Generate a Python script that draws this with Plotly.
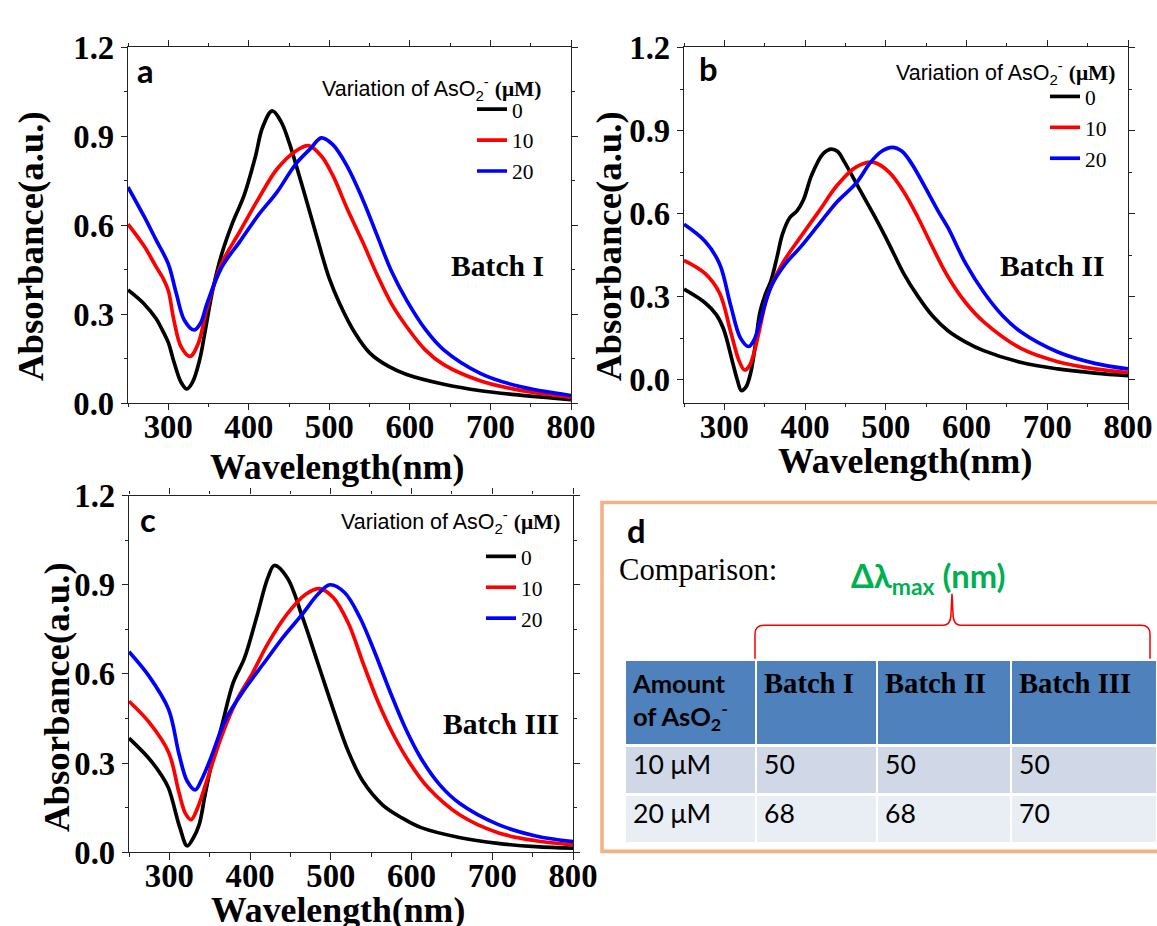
import plotly.graph_objects as go

# layout is designed on a 1157 x 926 grid; K enlarges the canvas for the viewer's zoom
W, H = 1157, 926
K = 1.022
FW, FH = round(W * K), round(H * K)

# ---- UV-vis spectra: wavelength (nm) and absorbance (a.u.) ----
# Batch I
wl_a_0 = [250, 270, 285, 293, 300, 307, 316, 323, 330, 339, 346, 355, 366, 380, 394, 408, 417, 429, 440, 450,
          458, 472, 486, 500, 513, 532, 550, 573, 596, 642, 688, 734, 800]
ab_a_0 = [0.382, 0.335, 0.285, 0.245, 0.205, 0.14, 0.07, 0.048, 0.07, 0.147, 0.247, 0.38, 0.50, 0.61, 0.70, 0.83,
          0.93, 0.986, 0.95, 0.88, 0.81, 0.68, 0.546, 0.42, 0.335, 0.236, 0.17, 0.125, 0.097, 0.064, 0.042, 0.028, 0.012]
wl_a_10 = [250, 270, 285, 293, 300, 307, 316, 327, 337, 348, 366, 389, 412, 435, 458, 474, 490, 504, 522, 541,
           559, 577, 596, 619, 642, 688, 734, 800]
ab_a_10 = [0.604, 0.53, 0.46, 0.424, 0.38, 0.28, 0.19, 0.158, 0.20, 0.32, 0.47, 0.58, 0.69, 0.79, 0.85, 0.869,
           0.834, 0.77, 0.657, 0.546, 0.435, 0.336, 0.258, 0.18, 0.13, 0.075, 0.045, 0.02]
wl_a_20 = [250, 270, 285, 300, 310, 320, 332, 340, 348, 366, 389, 412, 435, 458, 477, 490, 504, 522, 541, 559,
           577, 596, 619, 642, 688, 734, 800]
ab_a_20 = [0.729, 0.63, 0.55, 0.47, 0.37, 0.28, 0.247, 0.27, 0.335, 0.457, 0.546, 0.635, 0.712, 0.806, 0.86,
           0.895, 0.873, 0.80, 0.69, 0.568, 0.446, 0.347, 0.25, 0.18, 0.10, 0.058, 0.026]

# Batch II
wl_b_0 = [250, 276, 290, 299, 310, 316, 321, 327, 333, 339, 344, 351, 358, 365, 372, 381, 390, 398, 408, 422,
          432, 440, 449, 467, 485, 504, 522, 540, 558, 577, 599, 622, 668, 713, 759, 800]
ab_b_0 = [0.327, 0.278, 0.235, 0.183, 0.065, 0.0, -0.039, -0.025, 0.03, 0.14, 0.242, 0.31, 0.36, 0.44, 0.526,
          0.585, 0.61, 0.65, 0.738, 0.815, 0.833, 0.825, 0.785, 0.69, 0.596, 0.49, 0.384, 0.30, 0.23, 0.177,
          0.136, 0.104, 0.062, 0.039, 0.024, 0.015]
wl_b_10 = [250, 276, 294, 308, 318, 325, 331, 337, 345, 353, 372, 394, 417, 440, 463, 485, 504, 522, 540, 558,
           577, 599, 622, 668, 713, 759, 800]
ab_b_10 = [0.431, 0.384, 0.313, 0.171, 0.07, 0.035, 0.05, 0.10, 0.20, 0.30, 0.42, 0.514, 0.608, 0.703, 0.768,
           0.785, 0.75, 0.68, 0.585, 0.478, 0.372, 0.278, 0.207, 0.112, 0.065, 0.039, 0.026]
wl_b_20 = [250, 276, 294, 308, 320, 330, 337, 344, 358, 376, 394, 417, 440, 463, 481, 495, 508, 520, 531, 554,
           565, 577, 599, 622, 645, 668, 713, 759, 800]
ab_b_20 = [0.561, 0.50, 0.419, 0.266, 0.15, 0.12, 0.145, 0.207, 0.337, 0.42, 0.478, 0.561, 0.644, 0.709, 0.785,
           0.825, 0.839, 0.825, 0.785, 0.667, 0.608, 0.549, 0.419, 0.313, 0.23, 0.171, 0.10, 0.059, 0.039]

# Batch III
wl_c_0 = [250, 275, 290, 299, 313, 322, 330, 337, 344, 351, 365, 379, 393, 408, 422, 430, 446, 465, 484, 503,
          522, 540, 564, 588, 612, 659, 707, 754, 800]
ab_c_0 = [0.384, 0.315, 0.26, 0.216, 0.083, 0.022, 0.05, 0.094, 0.19, 0.282, 0.426, 0.57, 0.653, 0.79, 0.924,
          0.965, 0.924, 0.79, 0.636, 0.481, 0.337, 0.238, 0.16, 0.116, 0.083, 0.05, 0.03, 0.019, 0.014]
wl_c_10 = [250, 275, 299, 312, 320, 327, 335, 346, 365, 384, 403, 422, 446, 469, 486, 503, 522, 540, 559, 578,
           597, 621, 659, 707, 754, 800]
ab_c_10 = [0.508, 0.437, 0.337, 0.20, 0.13, 0.11, 0.15, 0.238, 0.393, 0.514, 0.603, 0.702, 0.802, 0.868, 0.887,
           0.857, 0.769, 0.636, 0.503, 0.393, 0.304, 0.216, 0.127, 0.066, 0.039, 0.025]
wl_c_20 = [250, 275, 299, 312, 322, 332, 340, 351, 370, 393, 417, 441, 465, 484, 499, 517, 536, 555, 574, 593,
           612, 635, 659, 707, 754, 800]
ab_c_20 = [0.675, 0.592, 0.481, 0.33, 0.24, 0.21, 0.245, 0.315, 0.448, 0.548, 0.636, 0.724, 0.802, 0.868, 0.90,
           0.874, 0.79, 0.669, 0.536, 0.414, 0.315, 0.227, 0.166, 0.094, 0.055, 0.036]

concentrations = ["0", "10", "20"]
line_colors = ["#000000", "#FF0000", "#0000FF"]
batch_names = ["Batch I", "Batch II", "Batch III"]
panel_letters = ["a", "b", "c"]

# ---- comparison table: shift of absorption maximum ----
table_header = ["<b>Amount<br>of AsO<sub>2</sub><sup>-</sup></b>", "<b>Batch I</b>", "<b>Batch II</b>",
                "<b>Batch III</b>"]
row_labels = ["10 μM", "20 μM"]
shift_batch1 = [50, 68]
shift_batch2 = [50, 68]
shift_batch3 = [50, 70]


def px(x):
    return x / W


def py(y):
    return 1 - y / H


def sz(v):
    return v * K


SERIF = "Liberation Serif"
SANS = "Lato"

fig = go.Figure()

panels = [
    dict(data=[(wl_a_0, ab_a_0), (wl_a_10, ab_a_10), (wl_a_20, ab_a_20)],
         box=(128, 571, 30, 392), yr=[0, 1.2], legend="legend"),
    dict(data=[(wl_b_0, ab_b_0), (wl_b_10, ab_b_10), (wl_b_20, ab_b_20)],
         box=(684, 1128, 30, 392), yr=[-0.085, 1.2], legend="legend2"),
    dict(data=[(wl_c_0, ab_c_0), (wl_c_10, ab_c_10), (wl_c_20, ab_c_20)],
         box=(129, 573, 486, 849), yr=[0, 1.2], legend="legend3"),
]

axis_common = dict(
    showline=True, linecolor="#222222", linewidth=sz(1.2), mirror="ticks",
    ticks="outside", ticklen=sz(6), tickwidth=sz(1.2), tickcolor="#222222",
    showgrid=False, zeroline=False,
    tickfont=dict(family=SERIF, size=sz(32), color="black", weight="bold"),
)

for i, p in enumerate(panels):
    suffix = "" if i == 0 else str(i + 1)
    xa, ya = "x" + suffix, "y" + suffix
    for (wl, ab), name, col in zip(p["data"], concentrations, line_colors):
        fig.add_trace(go.Scatter(
            x=wl, y=ab, mode="lines", name=name, xaxis=xa, yaxis=ya,
            line=dict(color=col, width=sz(3.6), shape="spline", smoothing=1.0),
            legend=p["legend"], showlegend=True,
        ))
    x0, x1, y0, y1 = p["box"]
    fig.layout["xaxis" + suffix] = dict(
        axis_common, domain=[px(x0), px(x1)], anchor=ya, range=[250, 800],
        tickvals=[300, 400, 500, 600, 700, 800], ticklabelstandoff=-12,
        minor=dict(dtick=50, tick0=250, ticks="outside", ticklen=sz(3), tickcolor="#222222"),
    )
    fig.layout["yaxis" + suffix] = dict(
        axis_common, domain=[py(y1), py(y0)], anchor=xa, range=p["yr"],
        tickvals=[0, 0.3, 0.6, 0.9, 1.2], ticktext=["0.0", "0.3", "0.6", "0.9", "1.2"],
        minor=dict(dtick=0.15, tick0=0, ticks="outside", ticklen=sz(3), tickcolor="#222222"),
    )

# legends, one per spectrum panel
legend_pos = [(472, 72), (1045, 59), (481, 527)]
for i, (lx, ly) in enumerate(legend_pos):
    key = "legend" if i == 0 else "legend" + str(i + 1)
    fig.layout[key] = dict(
        x=px(lx), y=py(ly), xanchor="left", yanchor="top",
        bgcolor="rgba(0,0,0,0)", borderwidth=0,
        font=dict(family=SERIF, size=sz(21), color="black"),
        tracegroupgap=0, traceorder="normal",
    )

ann = []


def label(text, x, y, size, family, xanchor="center", color="black", angle=0):
    ann.append(dict(text=text, x=px(x), y=py(y), xref="paper", yref="paper",
                    xanchor=xanchor, yanchor="middle", showarrow=False, textangle=angle,
                    font=dict(family=family, size=sz(size), color=color)))


# axis titles
for (tx, ty) in [(337, 457), (905, 451), (338, 908)]:
    label("<b>Wavelength(nm)</b>", tx, ty, 35, SERIF)
for (tx, ty) in [(31, 232), (609, 232), (56, 691)]:
    label("<b>Absorbance(a.u.)</b>", tx, ty, 36, SERIF, angle=-90)

# panel letters
for letter, (tx, ty) in zip(panel_letters, [(145, 53), (708, 51), (148, 510)]):
    label("<b>" + letter + "</b>", tx, ty, 32, SANS)

# legend headings
for (tx, ty) in [(320, 72), (894, 55), (339, 512)]:
    label("Variation of AsO<sub>2</sub><sup>-</sup> "
          "<span style='font-family:Liberation Serif'><b>(μM)</b></span>",
          tx, ty, 21, "Liberation Sans", xanchor="left")

# batch labels
for name, (tx, ty) in zip(batch_names, [(498, 252), (1052, 252), (501, 718)]):
    label("<b>" + name + "</b>", tx, ty, 29, SERIF)

# panel d texts
label("<b>d</b>", 636, 522, 32, SANS)
label("Comparison:", 617, 562, 30, SERIF, xanchor="left")
label("<b>Δλ<sub>max</sub> (nm)</b>", 928, 570, 32, SANS, color="#00B050")

fig.update_layout(annotations=ann)

# comparison table
fig.add_trace(go.Table(
    domain=dict(x=[px(625), 1.0], y=[py(842), py(653)]),
    columnwidth=[131, 121, 134, 146],
    header=dict(
        values=table_header,
        fill_color="#4F81BD",
        line=dict(color="white", width=sz(2.5)),
        align="left", height=sz(84),
        font=dict(family=[SANS, SERIF, SERIF, SERIF], size=[sz(25), sz(28), sz(28), sz(28)], color="black"),
    ),
    cells=dict(
        values=[row_labels, shift_batch1, shift_batch2, shift_batch3],
        fill_color=[["#D0D8E8", "#E9EDF4"]] * 4,
        line=dict(color="white", width=sz(2.5)),
        align="left", height=sz(48),
        font=dict(family=SANS, size=sz(26), color="black"),
    ),
))


# frame around panel d and the brace over the batch columns
def pt(x, y):
    return f"{px(x):.5f},{py(y):.5f}"


brace = ("M" + pt(755, 652) + " L" + pt(755, 627) + " Q" + pt(755, 618) + " " + pt(764, 618) +
         " L" + pt(943, 618) + " Q" + pt(951, 618) + " " + pt(951, 606) + " L" + pt(952, 586) +
         " L" + pt(953, 606) + " Q" + pt(953, 618) + " " + pt(961, 618) +
         " L" + pt(1141, 618) + " Q" + pt(1150, 618) + " " + pt(1150, 627) + " L" + pt(1150, 652))

fig.update_layout(shapes=[
    dict(type="rect", xref="paper", yref="paper", x0=px(602), x1=px(1166), y0=py(848), y1=py(493),
         line=dict(color="#F4B183", width=sz(3.5)), fillcolor="rgba(0,0,0,0)"),
    dict(type="path", xref="paper", yref="paper", path=brace, line=dict(color="#FF0000", width=sz(1.5))),
])

fig.update_layout(
    width=FW, height=FH, margin=dict(l=0, r=0, t=0, b=0),
    paper_bgcolor="white", plot_bgcolor="white",
)

fig.write_html("out.html", post_script="document.body.style.margin='0px';")
